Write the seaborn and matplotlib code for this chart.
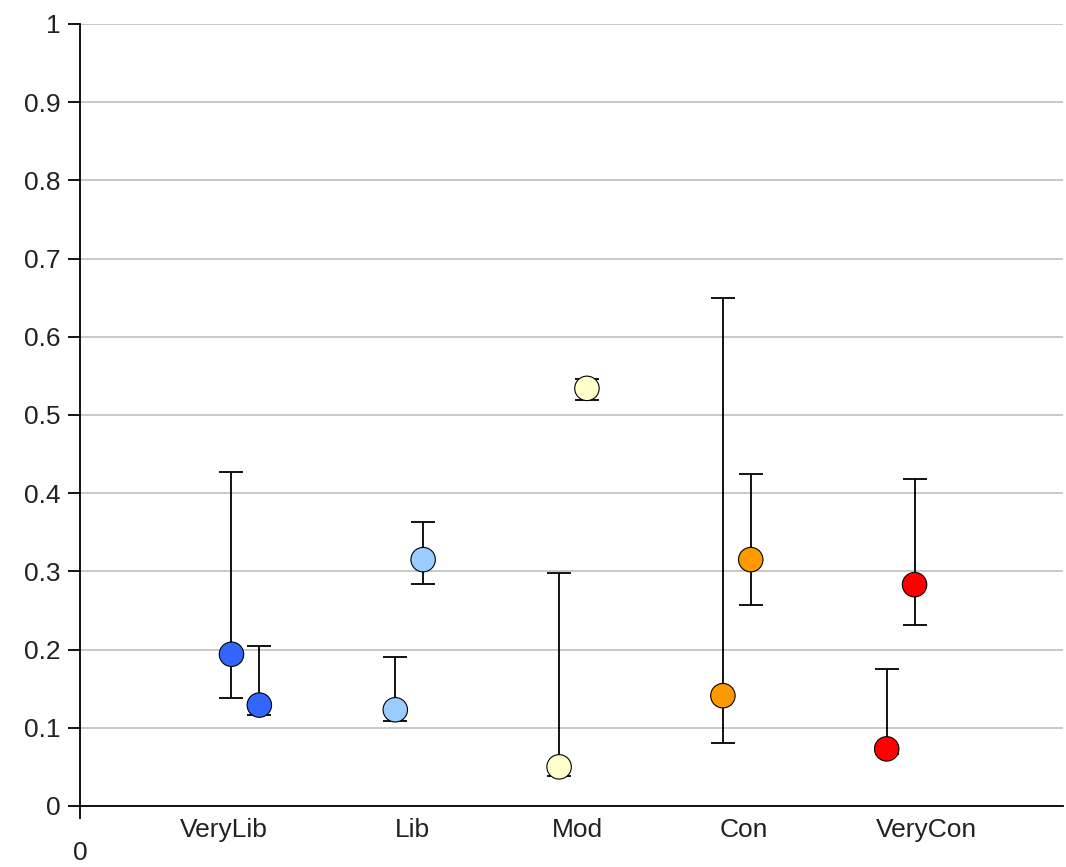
import numpy as np
import pandas as pd
import seaborn as sns
from matplotlib import pyplot as plt

# values
categories = ["VeryLib", "Lib", "Mod", "Con", "VeryCon"]
colors = ["#3366FF", "#99CCFF", "#FFFFCC", "#FF9900", "#FF0000"]

first_vals = [0.194, 0.123, 0.050, 0.141, 0.073]
first_lo = [0.138, 0.109, 0.038, 0.080, 0.066]
first_hi = [0.427, 0.191, 0.298, 0.650, 0.175]

second_vals = [0.129, 0.315, 0.534, 0.315, 0.283]
second_lo = [0.116, 0.284, 0.519, 0.257, 0.231]
second_hi = [0.204, 0.363, 0.546, 0.425, 0.418]

sns.set_theme(style="white")
plt.rcParams['font.family'] = ['Liberation Sans', 'DejaVu Sans']

# layout: category positions on a 0..6 x axis, two points per category
pos = np.arange(1, len(categories) + 1)
offsets = {"first": -0.075, "second": 0.095}
label_nudge = [-0.12, 0.03, 0.04, 0.05, 0.17]

rows = []
for name, vals, lo, hi in [("first", first_vals, first_lo, first_hi),
                           ("second", second_vals, second_lo, second_hi)]:
    for i, c in enumerate(categories):
        rows.append({"cat": c, "series": name, "x": pos[i] + offsets[name],
                     "y": vals[i], "lo": lo[i], "hi": hi[i]})
df = pd.DataFrame(rows)

fig = plt.figure(figsize=(10.66, 8.67), dpi=100)
ax = fig.add_axes([0.075, 0.0704, 0.922, 0.902])

ax.errorbar(df["x"], df["y"], yerr=[df["y"] - df["lo"], df["hi"] - df["y"]],
            fmt="none", ecolor="black", elinewidth=1.3, capsize=8.5,
            capthick=1.3, zorder=2)
sns.scatterplot(ax=ax, data=df, x="x", y="y", hue="cat",
                palette=dict(zip(categories, colors)), s=310,
                edgecolor="black", linewidth=0.8, legend=False, zorder=3)

ax.set_xlim(0, 6)
ax.set_ylim(0, 1)
ax.set_yticks(np.arange(0, 1.01, 0.1))
ax.set_yticklabels(["0"] + [f"{v:.1f}" for v in np.arange(0.1, 0.95, 0.1)] + ["1"])
ax.set_xticks([0])
ax.set_xticklabels(["0"])
ax.grid(axis="y", color="#c8c8c8", linewidth=1.4)
ax.set_axisbelow(True)
ax.set_xlabel("")
ax.set_ylabel("")

for s in ["top", "right"]:
    ax.spines[s].set_visible(False)
for s in ["left", "bottom"]:
    ax.spines[s].set_color("black")
    ax.spines[s].set_linewidth(1.3)

ax.tick_params(axis="y", length=9, width=1.3, color="black", direction="out",
               left=True, labelsize=19, labelcolor="#222222", pad=5)
ax.tick_params(axis="x", length=9, width=1.3, color="black", direction="out",
               bottom=True, labelsize=19, labelcolor="#222222", pad=16)

for i, c in enumerate(categories):
    ax.text(pos[i] + label_nudge[i], -0.031, c, ha="center", va="center",
            fontsize=19, color="#222222", clip_on=False)

fig.savefig("out.png", dpi=100, facecolor="white")
